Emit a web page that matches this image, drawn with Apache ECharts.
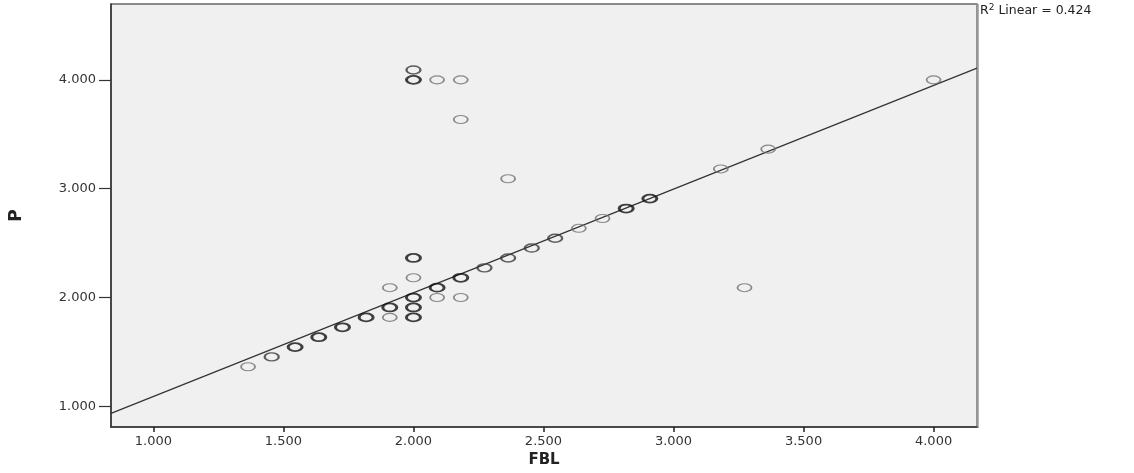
<!DOCTYPE html>
<html>
<head>
<meta charset="utf-8">
<script src="https://cdn.jsdelivr.net/npm/echarts@6/dist/echarts.min.js"></script>
<style>
  html, body { margin: 0; padding: 0; background: #fff; }
  #chart_box { width: 1134px; height: 473px; }
</style>
</head>
<body>
<div id="chart_box"></div>
<script>
// FBL (x), P (y), and how many cases sit on the same spot (darker ring)
var fblValues = [1.364, 1.455, 1.545, 1.636, 1.727, 1.818, 1.909, 1.909, 1.909, 2.000,
  2.000, 2.091, 2.182, 2.182, 2.364, 2.000, 2.000, 2.000, 2.000, 2.000,
  2.091, 2.091, 2.182, 2.182, 2.273, 2.364, 2.455, 2.545, 2.636, 2.727,
  2.818, 2.909, 3.182, 3.273, 3.364, 4.000]
var pValues = [1.364, 1.455, 1.545, 1.636, 1.727, 1.818, 1.909, 2.091, 1.818, 4.091,
  4.000, 4.000, 4.000, 3.636, 3.091, 2.364, 2.182, 2.000, 1.909, 1.818,
  2.091, 2.000, 2.182, 2.000, 2.273, 2.364, 2.455, 2.545, 2.636, 2.727,
  2.818, 2.909, 3.182, 2.091, 3.364, 4.000]
var caseCounts = [1, 2, 3, 3, 3, 3, 3, 1, 1, 2,
  3, 1, 1, 1, 1, 3, 1, 3, 3, 3,
  3, 1, 3, 1, 2, 2, 2, 2, 1, 1,
  3, 3, 1, 1, 1, 1]

var xTicks = [1.0, 1.5, 2.0, 2.5, 3.0, 3.5, 4.0]
var yTicks = [1.0, 2.0, 3.0, 4.0]

// fit line
var fitIntercept = 0.139
var fitSlope = 0.9525
var r2Text = '0.424'

var xMin = 0.837, xMax = 4.167
var yMin = 0.81, yMax = 4.697

var chartDom = document.getElementById('chart_box')
var myChart = echarts.init(chartDom)

var ringColor = { 1: '#707070', 2: '#3a3a3a', 3: '#111' }
var ringWidth = { 1: 1.4, 2: 1.8, 3: 2.3 }

var points = fblValues.map(function (x, i) {
  var n = caseCounts[i]
  return {
    value: [x, pValues[i]],
    itemStyle: { color: 'transparent', borderColor: ringColor[n], borderWidth: ringWidth[n] }
  }
})

var fitLine = [
  [xMin, fitIntercept + fitSlope * xMin],
  [xMax, fitIntercept + fitSlope * xMax]
]

var tickFmt = function (v) { return Number(v).toFixed(3) }

var option = {
  animation: false,
  backgroundColor: '#fff',
  grid: {
    left: 111,
    right: 157,
    top: 4,
    bottom: 45,
    show: true,
    backgroundColor: '#f0f0f0',
    borderColor: '#666',
    borderWidth: 1.5
  },
  graphic: [
    {
      type: 'line',
      shape: { x1: 977.5, y1: 4, x2: 977.5, y2: 428 },
      style: { stroke: '#999', lineWidth: 2.5 }
    },
    {
      type: 'text',
      left: 980,
      top: 3,
      style: {
        rich: {
          a: { fontFamily: 'DejaVu Sans', fontSize: 12.5, fill: '#222' },
          sup: { fontFamily: 'DejaVu Sans', fontSize: 9, fill: '#222', verticalAlign: 'top', padding: [0, 0, 6, 0] }
        },
        text: '{a|R}{sup|2}{a| Linear = ' + r2Text + '}'
      }
    }
  ],
  xAxis: {
    type: 'value',
    min: xMin,
    max: xMax,
    name: 'FBL',
    nameLocation: 'middle',
    nameGap: 22,
    nameTextStyle: {
      fontFamily: 'DejaVu Sans',
      fontWeight: 'bold',
      fontSize: 15,
      color: '#222'
    },
    axisLine: { show: true, lineStyle: { color: '#333', width: 1.5 } },
    axisTick: { show: true, length: 5, customValues: xTicks, lineStyle: { color: '#222', width: 1.5 } },
    axisLabel: {
      customValues: xTicks,
      formatter: tickFmt,
      margin: 8,
      fontFamily: 'DejaVu Sans',
      fontSize: 13,
      color: '#333'
    },
    splitLine: { show: false }
  },
  yAxis: {
    type: 'value',
    min: yMin,
    max: yMax,
    name: 'P',
    nameLocation: 'middle',
    nameGap: 86,
    nameTextStyle: {
      fontFamily: 'DejaVu Sans',
      fontWeight: 'bold',
      fontSize: 17,
      color: '#222'
    },
    axisLine: { show: true, lineStyle: { color: '#333', width: 1.5 } },
    axisTick: { show: true, length: 12, customValues: yTicks, lineStyle: { color: '#333', width: 1.2 } },
    axisLabel: {
      customValues: yTicks,
      formatter: tickFmt,
      margin: 15,
      fontFamily: 'DejaVu Sans',
      fontSize: 13,
      color: '#333'
    },
    splitLine: { show: false }
  },
  series: [
    {
      type: 'line',
      data: fitLine,
      symbol: 'none',
      silent: true,
      lineStyle: { color: '#333', width: 1.2 },
      z: 1
    },
    {
      type: 'scatter',
      symbol: 'circle',
      symbolSize: [14, 8],
      data: points,
      z: 2
    }
  ]
}

option && myChart.setOption(option)
</script>
</body>
</html>
